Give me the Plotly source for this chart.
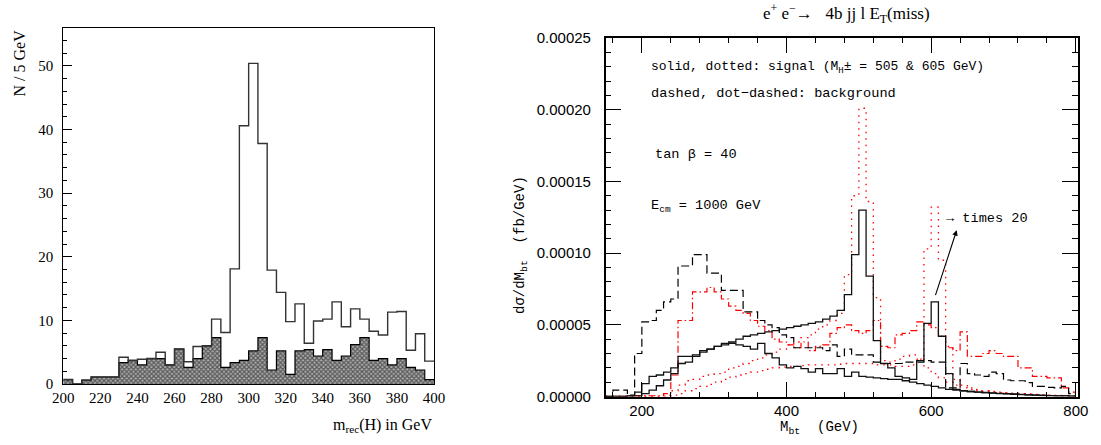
import plotly.graph_objects as go

# ---------------- Left panel data (5 GeV bins, 200-400 GeV) ----------------
left_bin_lo = list(range(200, 400, 5))
left_total = [0.7, 0, 0.6, 1.1, 1.1, 1.1, 4.2, 3.7, 3.9, 4.0,
              5.0, 3.0, 5.5, 3.5, 5.9, 6.0, 10.2, 8.1, 18.1, 40.6,
              50.4, 37.8, 17.9, 14.4, 9.8, 12.6, 6.4, 9.9, 10.2, 12.9,
              9.0, 11.8, 10.2, 8.3, 7.7, 11.3, 11.4, 5.3, 7.9, 3.6]
left_bkg = [0.7, 0, 0.6, 1.1, 1.1, 1.1, 3.35, 3.7, 3.0, 4.0,
            4.0, 3.0, 5.5, 2.6, 4.0, 6.0, 7.3, 2.6, 3.35, 3.7,
            5.2, 7.3, 2.2, 5.2, 1.5, 5.2, 5.4, 4.4, 5.4, 3.7,
            4.4, 6.2, 7.3, 3.7, 4.0, 3.0, 4.0, 2.6, 2.2, 0.7]
left_ticks = [200, 220, 240, 260, 280, 300, 320, 340, 360, 380, 400]

# ---------------- Right panel data (10 GeV bins, 150-800 GeV), units of 1e-5 fb/GeV ----------------
right_bin_lo = list(range(150, 800, 10))
unit = 1e-5
sig_solid_505 = [0, 0, 0, 0.02, 0.05,
                 0.2, 0.45, 0.75, 1.15, 1.6,
                 2.3, 2.4, 2.8, 3.2, 3.3,
                 3.5, 3.7, 3.8, 4.0, 4.2,
                 4.3, 4.4, 4.5, 4.6, 4.7,
                 4.8, 4.9, 5.0, 5.1, 5.2,
                 5.4, 5.6, 6.0, 7.1, 9.9,
                 13.0, 8.4, 3.9, 2.3, 2.0,
                 1.4, 1.3, 1.2, 2.5, 5.1,
                 6.6, 4.2, 1.6, 0.5, 0.4,
                 0.35, 0.3, 0.27, 0.24, 0.2,
                 0.18, 0.15, 0.13, 0.11, 0.09,
                 0.07, 0.06, 0.05, 0.04, 0.03]
sig_solid_hump = [0, 0, 0, 0.05, 0.3,
                  0.9, 1.4, 1.5, 1.7, 2.0,
                  2.8, 2.8, 2.9, 3.1, 3.3,
                  3.5, 3.6, 3.7, 3.6, 3.5,
                  3.3, 3.7, 3.0, 2.7, 2.2,
                  2.0, 2.1, 1.95, 1.7, 1.95,
                  1.6, 1.6, 1.95, 1.4, 1.7,
                  1.4, 1.35, 1.3, 1.25, 1.2,
                  1.2, 1.1, 1.0, 0.9, 0.8,
                  0.7, 0.6, 0.5, 0.45, 0.4,
                  0.35, 0.3, 0.28, 0.25, 0.22,
                  0.2, 0.18, 0.15, 0.12, 0.1,
                  0.08, 0.06, 0.05, 0.04, 0.03]
sig_dot_505 = [0, 0, 0, 0, 0,
               0, 0, 0, 0.1, 0.4,
               0.8, 1.1, 1.2, 1.4, 1.5,
               1.6, 1.7, 2.0, 2.1, 2.3,
               2.5, 2.7, 2.9, 3.1, 3.3,
               3.6, 3.8, 4.1, 4.3, 4.7,
               5.0, 5.3, 5.8, 8.5, 14.0,
               20.1, 13.6, 6.9, 2.5, 2.4,
               2.6, 2.8, 2.9, 2.6, 2.0,
               1.6, 1.3, 1.0, 0.8, 0.6,
               0.5, 0.4, 0.35, 0.3, 0.27,
               0.24, 0.2, 0.18, 0.15, 0.12,
               0.1, 0.08, 0.06, 0.05, 0.04]
sig_dot_605 = [0, 0, 0, 0, 0,
               0, 0, 0, 0, 0.1,
               0.2, 0.4, 0.55, 0.7, 0.85,
               1.0, 1.2, 1.35, 1.5, 1.6,
               1.7, 1.8, 1.9, 2.0, 2.05,
               2.1, 2.1, 2.15, 2.2, 2.2,
               2.2, 2.2, 2.25, 2.3, 2.3,
               2.3, 2.3, 2.2, 2.2, 2.2,
               2.1, 2.1, 2.2, 2.6, 10.3,
               13.2, 9.5, 3.5, 1.2, 0.8,
               0.6, 0.5, 0.4, 0.35, 0.3,
               0.27, 0.24, 0.2, 0.18, 0.15,
               0.12, 0.1, 0.08, 0.06, 0.04]
bkg_dashed = [0, 0.45, 0.45, 0.1, 3.0,
              5.2, 5.3, 6.0, 6.6, 6.8,
              9.1, 9.1, 9.9, 9.9, 8.6,
              8.6, 7.4, 7.4, 7.4, 5.9,
              5.9, 5.3, 5.0, 4.8, 4.3,
              4.1, 3.4, 3.4, 3.4, 3.4,
              3.2, 3.6, 2.8, 3.3, 2.9,
              2.9, 2.9, 2.4, 2.3, 2.3,
              2.3, 2.4, 2.4, 2.4, 2.5,
              2.4, 2.4, 0.6, 0.6, 2.3,
              1.6, 1.5, 1.4, 1.7, 1.6,
              1.15, 1.1, 1.1, 0.97, 0.7,
              0.7, 0.64, 0.6, 0.7, 0.2]
bkg_dotdash = [0, 0, 0, 0.05, 0.05,
               0.05, 0.05, 0.05, 0.2, 1.5,
               5.3, 5.3, 7.3, 7.3, 7.6,
               7.3, 6.8, 6.3, 6.0, 5.8,
               5.3, 4.9, 4.6, 4.0, 3.8,
               3.6, 3.4, 3.8, 3.2, 3.5,
               3.6, 4.4, 4.8, 5.0, 4.6,
               4.4, 4.6, 5.3, 3.5, 3.4,
               4.3, 4.4, 4.6, 5.2, 5.0,
               4.8, 4.2, 3.4, 3.2, 4.5,
               2.8, 2.8, 3.0, 3.2, 3.0,
               2.8, 2.8, 2.0, 2.0, 1.4,
               1.4, 1.3, 1.3, 0.6, 0.3]
right_xticks = [200, 400, 600, 800]

W, H = 1101, 445
NB = '\u00a0'


def step_xy(lo, width, vals, scale=1.0):
    xs = list(lo) + [lo[-1] + width]
    ys = [v * scale for v in vals] + [vals[-1] * scale]
    return xs, ys


fig = go.Figure()

# ---- left panel: hatched background histogram ----
fig.add_trace(go.Bar(
    x=[b + 2.5 for b in left_bin_lo], y=left_bkg, width=5,
    marker=dict(color='#9a9a9a', line=dict(width=0),
                pattern=dict(shape='x', fgcolor='#000000', bgcolor='#b0b0b0',
                             size=3.2, solidity=0.6)),
    xaxis='x', yaxis='y', showlegend=False, hoverinfo='skip'))
xs, ys = step_xy(left_bin_lo, 5, left_bkg)
fig.add_trace(go.Scatter(x=xs, y=ys, mode='lines', line=dict(color='black', width=1.2, shape='hv'),
                         xaxis='x', yaxis='y', showlegend=False, hoverinfo='skip'))
xs, ys = step_xy(left_bin_lo, 5, left_total)
fig.add_trace(go.Scatter(x=xs, y=ys, mode='lines', line=dict(color='#333333', width=1.4, shape='hv'),
                         xaxis='x', yaxis='y', showlegend=False, hoverinfo='skip'))

# ---- right panel ----
red = '#ff0000'
series = [
    (sig_dot_505, dict(color=red, width=1.3, dash='1.5px,5px')),
    (sig_dot_605, dict(color=red, width=1.3, dash='1.5px,5px')),
    (bkg_dotdash, dict(color=red, width=1.2, dash='7px,3px,1.5px,3px')),
    (bkg_dashed, dict(color='black', width=1.2, dash='8px,4px')),
    (sig_solid_hump, dict(color='#111111', width=1.3)),
    (sig_solid_505, dict(color='#111111', width=1.3)),
]
for vals, ln in series:
    xs, ys = step_xy(right_bin_lo, 10, vals, unit)
    ln = dict(ln, shape='hv')
    fig.add_trace(go.Scatter(x=xs, y=ys, mode='lines', line=ln,
                             xaxis='x2', yaxis='y2', showlegend=False, hoverinfo='skip'))

serif = 'Liberation Serif'
sans = 'Liberation Sans'
mono = 'Liberation Mono'

fig.update_layout(
    width=W, height=H, margin=dict(l=0, r=0, t=0, b=0, autoexpand=False),
    paper_bgcolor='white', plot_bgcolor='white', bargap=0,
    xaxis=dict(domain=[63.3 / W, 434 / W], range=[200, 400], anchor='y', automargin=False,
               tickvals=left_ticks, ticks='', showline=True, mirror=True,
               linecolor='black', linewidth=1, showgrid=False, zeroline=False,
               tickfont=dict(family=serif, size=15, color='black')),
    yaxis=dict(domain=[1 - 384 / H, 1 - 27.7 / H], range=[0, 56], anchor='x', automargin=False,
               tick0=0, dtick=10, ticks='inside', ticklen=9, tickwidth=1, tickcolor='black',
               minor=dict(dtick=2, tick0=0, ticks='inside', ticklen=4, tickcolor='black', tickwidth=1),
               showline=True, mirror=True, linecolor='black', linewidth=1,
               showgrid=False, zeroline=False,
               tickfont=dict(family=serif, size=15, color='black'), ticklabelstandoff=6),
    xaxis2=dict(domain=[605.7 / W, 1078 / W], range=[150, 803], anchor='y2', automargin=False,
                tickvals=right_xticks, ticks='inside', ticklen=15, tickwidth=1, tickcolor='black',
                minor=dict(dtick=40, tick0=200, ticks='inside', ticklen=5, tickcolor='black', tickwidth=1),
                showline=True, mirror='ticks', linecolor='black', linewidth=1.5,
                showgrid=False, zeroline=False,
                tickfont=dict(family=sans, size=15, color='black')),
    yaxis2=dict(domain=[1 - 396.5 / H, 1 - 38 / H], range=[0, 0.00025], anchor='x2', automargin=False,
                tick0=0, dtick=0.00005, tickformat='.5f', ticks='inside', ticklen=16,
                tickwidth=1, tickcolor='black',
                minor=dict(dtick=0.00001, tick0=0, ticks='inside', ticklen=6, tickcolor='black', tickwidth=1),
                showline=True, mirror='ticks', linecolor='black', linewidth=1.5,
                showgrid=False, zeroline=False,
                tickfont=dict(family=sans, size=15, color='black'), ticklabelstandoff=10),
)

ann = []
# left labels
ann.append(dict(text='N / 5 GeV', x=19 / W, y=1 - 28 / H, xref='paper', yref='paper',
                xanchor='center', yanchor='top', textangle=-90, showarrow=False,
                font=dict(family=serif, size=16, color='black')))
ann.append(dict(text='m<sub>rec</sub>(H) in GeV', x=434 / W, y=1 - 425 / H, xref='paper', yref='paper',
                xanchor='right', yanchor='middle', showarrow=False,
                font=dict(family=serif, size=16, color='black')))
# right title and axis labels
title_txt = ('e<sup>+</sup>' + NB + 'e<sup>\u2212</sup>\u2192' + NB * 3 + '4b' + NB + 'jj' + NB + 'l' + NB
             + 'E<sub>T</sub>(miss)')
ann.append(dict(text=title_txt,
                x=846 / W, y=1 - 13 / H, xref='paper', yref='paper',
                xanchor='center', yanchor='middle', showarrow=False,
                font=dict(family=serif, size=17, color='black')))
ann.append(dict(text='M<sub>bt</sub>' + NB * 2 + '(GeV)', x=819 / W, y=1 - 428 / H, xref='paper', yref='paper',
                xanchor='center', yanchor='middle', showarrow=False,
                font=dict(family=mono, size=14, color='black')))
ann.append(dict(text='d\u03c3/dM<sub>bt</sub>' + NB * 2 + '(fb/GeV)', x=521 / W, y=1 - 245 / H,
                xref='paper', yref='paper',
                xanchor='center', yanchor='middle', textangle=-90, showarrow=False,
                font=dict(family=mono, size=14, color='black')))
# inner texts
inner = [
    ('solid, dotted: signal (M<sub>H</sub>\u00b1 = 505 & 605 GeV)', 648.6, 67, 13.0),
    ('dashed, dot\u2212dashed: background', 648.6, 93, 13.6),
    ('tan \u03b2 = 40', 652.5, 154, 13.6),
    ('E<sub>cm</sub> = 1000 GeV', 648.6, 206, 13.6),
]
for t, px, py, fs in inner:
    ann.append(dict(text=t, x=px / W, y=1 - py / H, xref='paper', yref='paper',
                    xanchor='left', yanchor='middle', showarrow=False,
                    font=dict(family=mono, size=fs, color='black')))
ann.append(dict(text='\u2192 times 20', x=944 / W, y=1 - 218 / H, xref='paper', yref='paper',
                xanchor='left', yanchor='middle', showarrow=False,
                font=dict(family=mono, size=13.6, color='black')))
# arrow pointing from the x20 peak to the label
ann.append(dict(text='', x=635.3, y=11.6e-5, ax=605.3, ay=6.96e-5,
                xref='x2', yref='y2', axref='x2', ayref='y2',
                showarrow=True, arrowhead=2, arrowsize=1, arrowwidth=1.1, arrowcolor='black'))
fig.update_layout(annotations=ann)

fig.write_html('out.html', config={'displayModeBar': False},
               post_script="document.body.style.margin='0px';")
